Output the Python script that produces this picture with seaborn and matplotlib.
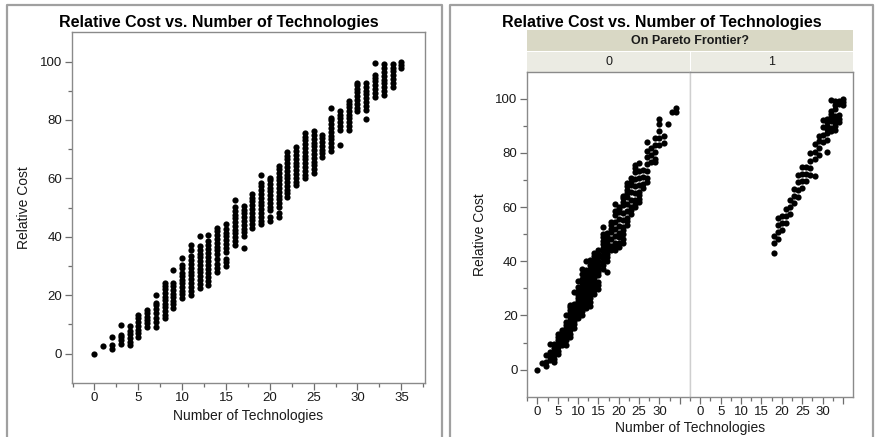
import matplotlib
matplotlib.use("Agg")
import matplotlib.pyplot as plt
from matplotlib.patches import Rectangle
from matplotlib.ticker import MultipleLocator, FixedLocator
import seaborn as sns
import pandas as pd

# Relative cost of each design, grouped by how many technologies it uses.
tech_counts = list(range(36))
cost_off_frontier = [
    [0.0],
    [2.5],
    [1.5, 2.8, 5.5],
    [3.4, 4.6, 5.6, 6.5, 9.6],
    [2.9, 3.8, 5.4, 6.6, 7.8, 9.4],
    [5.8, 7.0, 8.2, 9.5, 10.8, 12.0, 13.2],
    [9.1, 10.3, 11.5, 12.6, 13.8, 14.8],
    [9.2, 10.8, 12.3, 13.8, 15.2, 16.5, 17.4, 20.2],
    [12.0, 13.2, 14.5, 15.8, 17.0, 18.2, 19.5, 20.8, 22.0, 23.2, 24.0],
    [15.5, 16.8, 18.0, 19.3, 20.5, 21.8, 23.0, 24.2, 28.5],
    [19.0, 20.3, 21.5, 22.8, 24.0, 25.3, 26.5, 27.6, 29.2, 30.4, 32.6],
    [20.2, 21.5, 22.8, 24.2, 25.5, 26.8, 28.0, 29.3, 30.6, 31.9, 33.4, 35.4, 37.0],
    [22.6, 23.9, 25.2, 26.5, 27.8, 29.0, 30.3, 31.6, 32.9, 34.2, 35.5, 36.8, 40.2],
    [23.5, 25.0, 26.3, 27.7, 29.0, 30.4, 31.8, 33.2, 34.5, 35.9, 37.2, 38.6, 40.5],
    [28.0, 29.3, 30.6, 32.4, 34.0, 35.3, 36.6, 37.9, 39.2, 40.5, 41.8, 43.0],
    [29.8, 31.2, 32.5, 34.8, 36.2, 37.5, 38.8, 40.1, 41.4, 42.7, 44.2],
    [37.2, 38.5, 39.8, 41.1, 42.4, 43.7, 45.0, 46.3, 47.6, 48.9, 50.2, 52.6],
    [36.0, 40.2, 41.5, 42.8, 44.1, 45.4, 46.7, 48.0, 49.2, 50.4],
    [44.3, 45.6, 48.2, 50.8, 52.1, 53.3, 54.5],
    [44.2, 45.5, 46.8, 49.4, 52.0, 54.6, 57.2, 58.4, 61.0],
    [45.3, 46.6, 49.0, 50.3, 52.9, 55.5, 58.1, 59.4, 60.2],
    [46.8, 48.1, 50.2, 51.5, 52.8, 55.4, 58.0, 60.6, 61.9, 63.2, 64.2],
    [53.5, 54.8, 56.1, 58.7, 61.3, 63.9, 65.2, 66.5, 67.8, 69.0],
    [57.6, 58.9, 60.2, 62.8, 65.4, 68.0, 69.3, 70.8],
    [60.0, 61.3, 62.6, 65.2, 67.8, 70.4, 73.0, 74.3, 75.6],
    [61.8, 63.1, 64.4, 65.7, 68.3, 70.9, 73.5, 76.2],
    [67.2, 68.5, 71.1, 73.7],
    [69.4, 70.7, 73.3, 75.9, 78.5, 80.8, 84.0],
    [76.6, 79.2, 81.8],
    [76.6, 77.9, 80.5, 83.1, 85.6],
    [82.9, 85.5, 88.1, 90.7, 92.6],
    [83.5, 86.1],
    [90.6],
    [95.1],
    [95.3, 96.6],
    [],
]

frontier_counts = list(range(18, 36))
cost_on_frontier = [
    [43.0, 46.9, 49.5],
    [48.1, 50.7, 53.3, 55.9],
    [51.6, 54.2, 56.8],
    [54.1, 56.7, 59.3],
    [57.4, 60.0, 62.6],
    [61.5, 64.1, 66.7],
    [63.9, 66.5, 69.1, 71.7],
    [67.0, 69.6, 72.2, 74.8],
    [69.8, 72.4, 74.9],
    [72.0, 74.6, 77.2, 79.8],
    [71.5, 77.9, 80.5, 83.2],
    [79.2, 81.8, 84.4, 86.4],
    [84.2, 86.8, 89.4, 92.0],
    [80.2, 84.8, 87.4, 88.7, 90.0, 91.3, 92.6],
    [88.0, 89.3, 91.9, 93.2, 94.5, 95.4, 99.5],
    [88.6, 89.9, 91.2, 92.5, 93.8, 96.4, 97.7, 99.0],
    [91.4, 92.7, 94.0, 97.9, 99.0],
    [97.8, 98.9, 100.0],
]

title_text = "Relative Cost vs. Number of Technologies"
x_name = "Number of Technologies"
y_name = "Relative Cost"
group_name = "On Pareto Frontier?"
group_levels = [0, 1]

rows = []
for n, ys in zip(tech_counts, cost_off_frontier):
    rows += [(n, y, 0) for y in ys]
for n, ys in zip(frontier_counts, cost_on_frontier):
    rows += [(n, y, 1) for y in ys]
df = pd.DataFrame(rows, columns=[x_name, y_name, group_name])

sns.set_theme(style="white")
plt.rcParams["font.family"] = ["Liberation Sans", "DejaVu Sans"]

W, H = 876, 437
fig = plt.figure(figsize=(W / 100, H / 100), dpi=100)


def px_box(x0, y0, x1, y1):
    return [x0 / W, 1 - y1 / H, (x1 - x0) / W, (y1 - y0) / H]


FRAME = "#a0a0a0"
SPINE = "#8a8a8a"
TICK = "#6e6e6e"
TXT = "#1a1a1a"
DOT = 20

# page layer for frames, titles and the facet header
page = fig.add_axes([0, 0, 1, 1], zorder=0)
page.set_xlim(0, W)
page.set_ylim(H, 0)
page.axis("off")
page.plot([7, 7, 442, 442], [H, 5, 5, H], color=FRAME, lw=1.6)
page.plot([450, 450, 873, 873], [H, 5, 5, H], color=FRAME, lw=1.6)

page.text(219, 22, title_text, ha="center", va="center", fontsize=11.5,
          fontweight="bold", color="black")
page.text(662, 22, title_text, ha="center", va="center", fontsize=11.5,
          fontweight="bold", color="black")

hx0, hmid, hx1 = 527.3, 690.0, 853.3
page.add_patch(Rectangle((hx0, 30), hx1 - hx0, 21, facecolor="#d9d8c5", edgecolor="none"))
page.add_patch(Rectangle((hx0, 52), hmid - hx0 - 0.5, 19.7, facecolor="#ebebe3", edgecolor="none"))
page.add_patch(Rectangle((hmid + 0.5, 52), hx1 - hmid - 0.5, 19.7, facecolor="#ebebe3", edgecolor="none"))
page.text((hx0 + hx1) / 2, 41, group_name, ha="center", va="center", fontsize=9,
          fontweight="bold", color=TXT)
page.text((hx0 + hmid) / 2, 62, str(group_levels[0]), ha="center", va="center",
          fontsize=9, color=TXT)
page.text((hmid + hx1) / 2, 62, str(group_levels[1]), ha="center", va="center",
          fontsize=9, color=TXT)


def style_axes(ax, show_y=True):
    ax.set_facecolor("white")
    for side, sp in ax.spines.items():
        sp.set_visible(True)
        sp.set_color(SPINE)
        sp.set_linewidth(1.0)
    ax.set_ylim(-10, 110)
    ax.yaxis.set_major_locator(FixedLocator([0, 20, 40, 60, 80, 100]))
    ax.yaxis.set_minor_locator(FixedLocator([10, 30, 50, 70, 90]))
    ax.tick_params(axis="both", which="major", direction="out", length=5,
                   width=0.9, color=TICK, labelsize=9.5, labelcolor=TXT, pad=2)
    ax.tick_params(axis="both", which="minor", direction="out", length=3,
                   width=0.9, color=TICK)
    ax.tick_params(axis="x", which="both", bottom=True, top=False)
    ax.tick_params(axis="y", which="both", left=show_y, right=False, labelleft=show_y)
    ax.set_xlabel("")
    ax.set_ylabel("")


# overall view
axL = fig.add_axes(px_box(71.7, 32.3, 425, 382.7), zorder=1)
sns.scatterplot(data=df, x=x_name, y=y_name, ax=axL, color="black", s=DOT,
                linewidth=0, legend=False)
style_axes(axL)
axL.set_xlim(-2.6, 37.7)
axL.xaxis.set_major_locator(MultipleLocator(5))
axL.xaxis.set_minor_locator(FixedLocator([-2.5 + 5 * i for i in range(9)]))
axL.set_xlabel(x_name, fontsize=10, color=TXT, labelpad=3)
axL.set_ylabel(y_name, fontsize=10, color=TXT, labelpad=6)

# faceted view
facet_axes = []
for i, (lvl, (x0, x1)) in enumerate(zip(group_levels, [(527.3, 690.0), (690.0, 853.3)])):
    ax = fig.add_axes(px_box(x0, 71.7, x1, 396.7), zorder=1)
    sub = df[df[group_name] == lvl]
    sns.scatterplot(data=sub, x=x_name, y=y_name, ax=ax, color="black", s=DOT,
                    linewidth=0, legend=False)
    style_axes(ax, show_y=(i == 0))
    ax.set_xlim(-2.5, 37.5)
    ax.xaxis.set_major_locator(FixedLocator([0, 5, 10, 15, 20, 25, 30, 35]))
    ax.set_xticklabels(["0", "5", "10", "15", "20", "25", "30", ""])
    ax.xaxis.set_minor_locator(FixedLocator([-2.5 + 5 * k for k in range(8)]))
    facet_axes.append(ax)

facet_axes[0].spines["right"].set_color("#cfcfcf")
facet_axes[1].spines["left"].set_color("#cfcfcf")
facet_axes[0].set_ylabel(y_name, fontsize=10, color=TXT, labelpad=6)
page.text(690, 428, x_name, ha="center", va="center", fontsize=10, color=TXT)

fig.savefig("out.png", dpi=100)
